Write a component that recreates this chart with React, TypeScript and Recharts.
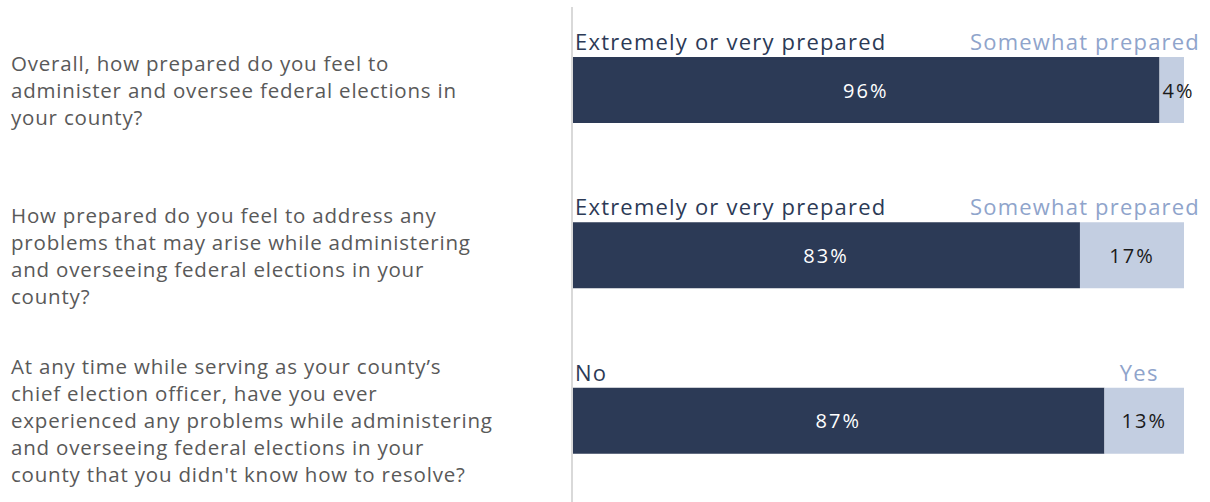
import React from 'react';
import { BarChart, Bar, XAxis, YAxis, LabelList } from 'recharts';

// question text, broken into the same lines as the original
const questions: string[][] = [
  ['Overall, how prepared do you feel to', 'administer and oversee federal elections in', 'your county?'],
  [
    'How prepared do you feel to address any',
    'problems that may arise while administering',
    'and overseeing federal elections in your',
    'county?',
  ],
  [
    'At any time while serving as your county\u2019s',
    'chief election officer, have you ever',
    'experienced any problems while administering',
    'and overseeing federal elections in your',
    "county that you didn't know how to resolve?",
  ],
];
const mainLabels = ['Extremely or very prepared', 'Extremely or very prepared', 'No'];
const otherLabels = ['Somewhat prepared', 'Somewhat prepared', 'Yes'];
const mainValues = [96, 83, 87];
const otherValues = [4, 17, 13];

const data = questions.map((q, i) => ({
  q: String(i),
  main: mainValues[i],
  other: otherValues[i],
}));

const FONT = '"Open Sans", sans-serif';
const DARK = '#2c3a56';
const LIGHT = '#c3cee1';
const W = 1210;
const H = 502;

function QuestionTick(props: any) {
  const { y, payload } = props;
  const lines = questions[Number(payload.value)] || [];
  const lh = 27;
  const y0 = y - ((lines.length - 1) * lh) / 2;
  return (
    <text x={11} y={y0} fill="#595959" fontFamily={FONT} fontSize={20.5} letterSpacing={0.8} textAnchor="start" dominantBaseline="central">
      {lines.map((l, k) => (
        <tspan key={k} x={11} y={y0 + k * lh} dominantBaseline="central">
          {l}
        </tspan>
      ))}
    </text>
  );
}

function MainLabel(props: any) {
  const { x, y, width, height, index, value } = props;
  return (
    <g>
      <text x={x + width / 2} y={y + height / 2} fill="#ffffff" fontFamily={FONT} fontSize={20} letterSpacing={2} textAnchor="middle" dominantBaseline="central">
        {value}%
      </text>
      <text x={x + 3} y={y - 16} fill={DARK} fontFamily={FONT} fontSize={22} letterSpacing={1.2} textAnchor="start" dominantBaseline="central">
        {mainLabels[index]}
      </text>
    </g>
  );
}

function OtherLabel(props: any) {
  const { x, y, width, height, index, value } = props;
  const txt = `${value}%`;
  const pw = txt.length * 15;
  const px = Math.max(x + width / 2, x + 4 + pw / 2);
  const name = otherLabels[index];
  const nw = name.length * 14;
  const cx = x + width / 2;
  const limit = W - 10;
  const overflow = cx + nw / 2 > limit;
  return (
    <g>
      <text x={px} y={y + height / 2} fill="#1a1a1a" fontFamily={FONT} fontSize={20} letterSpacing={2} textAnchor="middle" dominantBaseline="central">
        {txt}
      </text>
      <text
        x={overflow ? limit : cx - 5}
        y={y - 16}
        fill="#8fa4cb"
        fontFamily={FONT}
        fontSize={22}
        letterSpacing={1.2}
        textAnchor={overflow ? 'end' : 'middle'}
        dominantBaseline="central"
      >
        {name}
      </text>
    </g>
  );
}

export default function App() {
  return (
    <div style={{ position: 'absolute', left: 0, top: 0, width: W, height: H, background: '#fff' }}>
      <BarChart width={W} height={H} data={data} layout="vertical" margin={{ top: 7, right: 26, left: 0, bottom: -1 }}>
        <XAxis type="number" domain={[0, 100]} hide />
        <YAxis
          type="category"
          dataKey="q"
          width={572}
          tick={<QuestionTick />}
          tickLine={false}
          axisLine={{ stroke: '#d9d9d9', strokeWidth: 2 }}
        />
        <Bar dataKey="main" stackId="a" fill={DARK} barSize={66} isAnimationActive={false}>
          <LabelList dataKey="main" content={<MainLabel />} />
        </Bar>
        <Bar dataKey="other" stackId="a" fill={LIGHT} barSize={66} isAnimationActive={false}>
          <LabelList dataKey="other" content={<OtherLabel />} />
        </Bar>
      </BarChart>
    </div>
  );
}
